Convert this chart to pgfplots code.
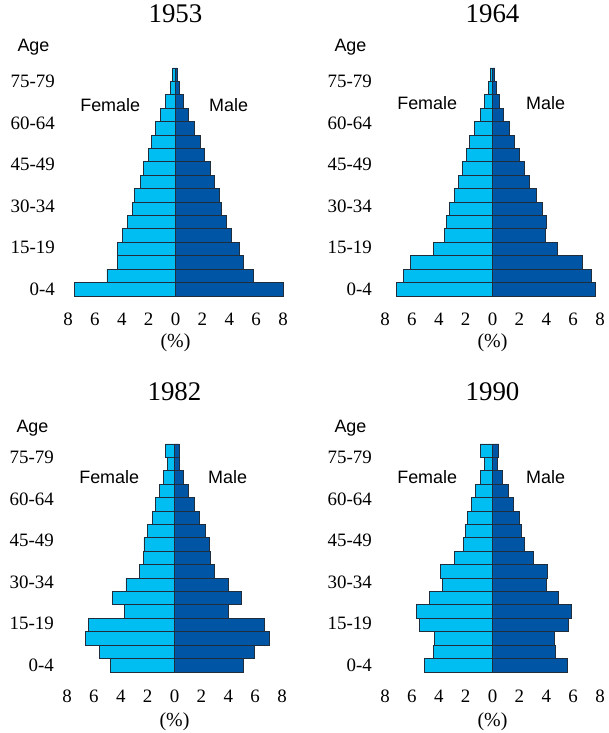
\documentclass[border=0pt]{standalone}
\usepackage{fontspec}
\setmainfont{Liberation Serif}
\setsansfont{Liberation Sans}
\usepackage{pgfplots}
\usepackage{pgfplotstable}
\pgfplotsset{compat=1.18}

\definecolor{fem}{HTML}{00BEF2}
\definecolor{mal}{HTML}{0055A5}
\definecolor{edge}{HTML}{1F2D3D}

% g: age group (0 = 0-4, ..., 16 = 80+), f/m: percent
\pgfplotstableread{
g f m
0 7.49 8.00
1 5.10 5.81
2 4.29 5.05
3 4.29 4.75
4 3.92 4.16
5 3.57 3.79
6 3.20 3.42
7 3.03 3.30
8 2.64 2.88
9 2.41 2.61
10 2.04 2.17
11 1.77 1.85
12 1.48 1.43
13 1.11 0.99
14 0.76 0.62
15 0.37 0.30
16 0.22 0.12
}\tA
\pgfplotstableread{
g f m
0 7.17 7.67
1 6.60 7.37
2 6.08 6.72
3 4.39 4.84
4 3.57 3.97
5 3.42 4.02
6 3.20 3.72
7 2.85 3.28
8 2.53 2.78
9 2.21 2.38
10 1.94 2.01
11 1.71 1.66
12 1.36 1.27
13 0.89 0.84
14 0.62 0.52
15 0.32 0.30
16 0.17 0.17
}\tB
\pgfplotstableread{
g f m
0 4.76 5.12
1 5.56 5.95
2 6.61 7.05
3 6.37 6.66
4 3.73 3.98
5 4.61 4.98
6 3.61 3.98
7 2.63 2.98
8 2.32 2.71
9 2.27 2.63
10 1.98 2.27
11 1.66 1.83
12 1.39 1.46
13 1.10 1.07
14 0.80 0.68
15 0.51 0.37
16 0.66 0.37
}\tC
\pgfplotstableread{
g f m
0 5.09 5.61
1 4.42 4.71
2 4.32 4.62
3 5.41 5.66
4 5.68 5.88
5 4.67 4.91
6 3.75 4.02
7 3.85 4.09
8 2.80 3.05
9 2.13 2.36
10 2.01 2.18
11 1.84 2.01
12 1.54 1.56
13 1.27 1.17
14 0.92 0.74
15 0.62 0.37
16 0.92 0.47
}\tD

\pgfplotsset{
  pyr/.style={
    scale only axis, width=215bp, height=228bp, anchor=south west,
    xbar, bar width=1, bar shift=0pt,
    xmin=-8, xmax=8, ymin=-0.5, ymax=16.5,
    axis x line*=bottom, axis y line*=left,
    axis line style={draw=none}, major tick length=0pt, tick style={draw=none},
    xtick={-8,-6,-4,-2,0,2,4,6,8},
    xticklabels={8,6,4,2,0,2,4,6,8},
    ytick={0,3.1,6.2,9.3,12.4,15.5},
    yticklabels={0-4,15-19,30-34,45-49,60-64,75-79},
    ticklabel style={font=\fontsize{19}{22}\selectfont, inner sep=0pt},
    xticklabel style={anchor=north},
    yticklabel style={anchor=east, xshift=-13bp},
    xlabel={(\%)},
    xlabel style={at={(axis description cs:0.5,0)}, anchor=north, inner sep=0pt,
      font=\fontsize{20}{22}\selectfont},
    title style={at={(axis description cs:0.5,1)}, anchor=base, inner sep=0pt,
      font=\fontsize{27}{30}\selectfont},
    clip=false,
  },
  toprow/.style={xticklabel style={yshift=-17bp}, xlabel style={yshift=-37bp},
    title style={yshift=40bp}},
  botrow/.style={xticklabel style={yshift=-18bp}, xlabel style={yshift=-40bp},
    title style={yshift=37.5bp}},
  fbar/.style={draw=edge, line width=0.9pt, fill=fem},
  mbar/.style={draw=edge, line width=0.9pt, fill=mal},
}
\newcommand{\sexlabels}[2]{%
  \node[font=\sffamily\fontsize{18}{20}\selectfont, anchor=base] at (axis cs:-4.86,#1) {Female};
  \node[font=\sffamily\fontsize{18}{20}\selectfont, anchor=base] at (axis cs:3.95,#1) {Male};
  \node[font=\sffamily\fontsize{18}{20}\selectfont, anchor=base west, xshift=-54bp, yshift=#2]
    at (rel axis cs:0,1) {Age};
}

\begin{document}
\begin{tikzpicture}
\path[use as bounding box] (0,0) rectangle (609bp,733bp);

\begin{axis}[pyr, toprow, at={(68bp,437bp)}, title={1953}]
  \addplot[fbar] table[x expr=-\thisrow{f}, y=g] {\tA};
  \addplot[mbar] table[x=m, y=g] {\tA};
  \sexlabels{13.26}{16bp}
\end{axis}

\begin{axis}[pyr, toprow, at={(385bp,437bp)}, title={1964}]
  \addplot[fbar] table[x expr=-\thisrow{f}, y=g] {\tB};
  \addplot[mbar] table[x=m, y=g] {\tB};
  \sexlabels{13.4}{16bp}
\end{axis}

\begin{axis}[pyr, botrow, at={(67bp,61bp)}, title={1982}]
  \addplot[fbar] table[x expr=-\thisrow{f}, y=g] {\tC};
  \addplot[mbar] table[x=m, y=g] {\tC};
  \sexlabels{13.54}{11bp}
\end{axis}

\begin{axis}[pyr, botrow, at={(385bp,61bp)}, title={1990}]
  \addplot[fbar] table[x expr=-\thisrow{f}, y=g] {\tD};
  \addplot[mbar] table[x=m, y=g] {\tD};
  \sexlabels{13.54}{11bp}
\end{axis}
\end{tikzpicture}
\end{document}
